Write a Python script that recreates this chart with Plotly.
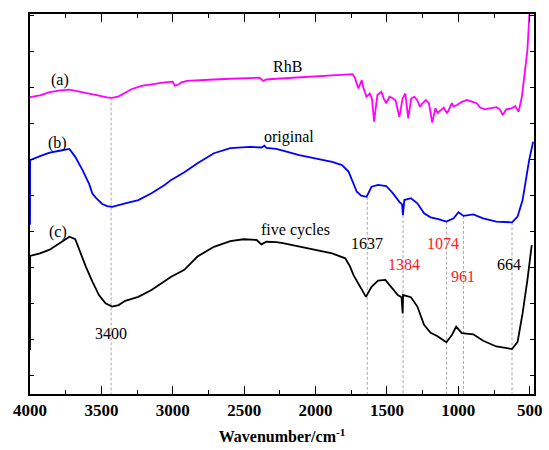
import plotly.graph_objects as go

# ---- data ----
rhb_wn = [4000, 3930, 3862, 3790, 3724, 3655, 3586, 3517, 3460, 3425, 3379, 3333, 3289, 3220, 3149, 3057,
          3000, 2986, 2960, 2940, 2900, 2827, 2712, 2597, 2459, 2392, 2367, 2344, 2275, 2114, 1999, 1884,
          1790, 1740, 1723, 1700, 1677, 1665, 1643, 1620, 1605, 1590, 1567, 1539, 1522, 1505, 1482, 1459,
          1440, 1413, 1390, 1371, 1351, 1330, 1309, 1290, 1268, 1255, 1228, 1206, 1183, 1160, 1145, 1125,
          1102, 1079, 1067, 1045, 1033, 1010, 979, 941, 910, 872, 847, 815, 780, 734, 710, 688, 665, 632,
          601, 578, 555, 532, 516, 502, 488]
rhb_t = [77.4, 77.9, 78.8, 79.3, 79.5, 79.0, 78.4, 77.8, 77.3, 77.2, 77.6, 78.6, 79.6, 80.5, 81.0, 81.5,
         81.7, 80.6, 80.9, 81.5, 81.9, 82.1, 82.3, 82.5, 82.8, 82.8, 81.9, 82.3, 82.5, 82.9, 83.2, 83.6,
         83.8, 83.8, 82.6, 79.8, 82.1, 80.0, 77.5, 78.4, 77.0, 70.6, 78.0, 78.9, 77.0, 75.7, 77.5, 77.1,
         76.5, 71.9, 77.1, 78.4, 71.5, 77.0, 77.5, 76.7, 74.7, 75.5, 76.6, 75.7, 70.3, 74.3, 73.0, 73.8,
         74.5, 72.9, 74.0, 75.7, 74.8, 75.2, 76.0, 76.6, 76.2, 75.7, 74.5, 74.0, 74.3, 74.6, 74.0, 72.4,
         74.0, 74.2, 74.9, 73.3, 77.5, 84.9, 90.5, 100.5, 104.5]

orig_wn = [4000, 3999, 3930, 3862, 3793, 3724, 3683, 3632, 3586, 3563, 3540, 3494, 3460, 3425, 3333, 3241,
           3149, 3057, 3011, 2953, 2919, 2827, 2712, 2597, 2459, 2379, 2358, 2344, 2275, 2229, 2114, 1884,
           1815, 1769, 1735, 1711, 1680, 1643, 1608, 1562, 1505, 1459, 1413, 1394, 1388, 1383, 1378, 1332,
           1287, 1240, 1194, 1140, 1084, 1033, 999, 964, 895, 826, 734, 624, 585, 550, 527, 504, 476]
orig_t = [41.9, 59.9, 61.0, 62.0, 62.5, 63.0, 60.8, 57.1, 53.3, 50.6, 49.5, 47.7, 47.1, 46.9, 47.9, 48.8,
          50.7, 53.0, 54.4, 55.7, 56.5, 59.0, 61.8, 63.2, 63.6, 63.4, 63.9, 63.3, 63.0, 62.5, 61.3, 59.4,
          58.5, 56.7, 53.4, 51.1, 50.0, 49.7, 52.5, 53.0, 52.7, 50.7, 48.3, 47.6, 44.6, 47.6, 48.8, 49.3,
          47.9, 45.1, 44.0, 43.5, 42.8, 43.7, 45.4, 44.4, 44.8, 43.7, 42.8, 42.6, 44.2, 48.8, 54.4, 59.9, 65.0]

five_wn = [4000, 3999, 3930, 3862, 3793, 3724, 3683, 3655, 3609, 3563, 3517, 3471, 3425, 3379, 3333, 3241,
           3149, 3011, 2919, 2827, 2712, 2597, 2505, 2413, 2379, 2344, 2275, 2229, 2114, 1999, 1884, 1792,
           1758, 1735, 1689, 1647, 1608, 1562, 1511, 1470, 1424, 1398, 1395, 1390, 1387, 1332, 1287, 1240,
           1194, 1148, 1084, 1045, 1015, 976, 895, 826, 734, 624, 585, 550, 516, 486]
five_t = [7.1, 33.3, 34.0, 35.0, 36.8, 38.6, 37.9, 34.9, 30.3, 26.1, 22.4, 20.1, 19.2, 19.6, 20.8, 21.9,
          23.8, 27.5, 29.4, 33.1, 35.8, 37.4, 37.9, 37.7, 36.5, 37.2, 37.1, 36.8, 35.8, 34.9, 34.0, 32.6,
          30.3, 28.0, 24.7, 21.9, 24.7, 26.4, 26.6, 24.7, 22.4, 21.8, 17.3, 17.3, 22.4, 21.8, 19.2, 14.1,
          11.9, 11.0, 9.3, 11.3, 13.6, 11.8, 11.5, 9.7, 8.1, 7.4, 9.4, 17.3, 26.6, 36.3]

# dashed marker lines: position and top value
mark_wn = [3432, 1638, 1387, 1082, 964, 624]
mark_top = [77.3, 49.7, 44.6, 42.8, 44.4, 42.6]

# peak labels
peak_text = ["3400", "1637", "1384", "1074", "961", "664"]
peak_x = [3436, 1643, 1378, 1109, 964, 642]
peak_y = [11.6, 36.6, 30.8, 36.6, 27.5, 30.8]
peak_red = [False, False, True, True, True, False]

curve_text = ["(a)", "(b)", "(c)", "RhB", "original", "five cycles"]
curve_x = [3793, 3807, 3807, 2194, 2185, 2137]
curve_y = [82.1, 64.6, 40.0, 85.8, 66.4, 40.5]

Y_MIN, Y_MAX = -5.1, 100.5
X_RANGE = [4000, 470]

fig = go.Figure()

for w, top in zip(mark_wn, mark_top):
    fig.add_trace(go.Scatter(x=[w, w], y=[top, Y_MIN], mode="lines",
                             line=dict(color="#a8a8a8", width=1, dash="3px,2px"),
                             hoverinfo="skip"))

fig.add_trace(go.Scatter(x=rhb_wn, y=rhb_t, mode="lines", line=dict(color="#ff00ff", width=1.8)))
fig.add_trace(go.Scatter(x=orig_wn, y=orig_t, mode="lines", line=dict(color="#0000ff", width=1.8)))
fig.add_trace(go.Scatter(x=five_wn, y=five_t, mode="lines", line=dict(color="#000000", width=1.8)))

serif = "Liberation Serif, Times New Roman, serif"
for t, x, y, red in zip(peak_text, peak_x, peak_y, peak_red):
    fig.add_annotation(x=x, y=y, text=t, showarrow=False,
                       font=dict(family=serif, size=16, color="#ff2020" if red else "#000000"))
for t, x, y in zip(curve_text, curve_x, curve_y):
    fig.add_annotation(x=x, y=y, text=t, showarrow=False,
                       font=dict(family=serif, size=16, color="#000000"))

fig.update_layout(
    width=549, height=450,
    margin=dict(l=30, r=7, t=14, b=56),
    paper_bgcolor="white", plot_bgcolor="white",
    showlegend=False,
    xaxis=dict(range=X_RANGE, showgrid=False, zeroline=False,
               showline=True, linecolor="black", linewidth=1.5, mirror="ticks",
               ticks="inside", ticklen=8, tickwidth=1.3, tickcolor="black",
               tick0=0, dtick=500,
               minor=dict(ticks="inside", ticklen=4, tickwidth=1.3, tickcolor="black", dtick=250, tick0=0),
               tickfont=dict(family=serif, size=17, color="black", weight="bold"),
               title=dict(text="<b>Wavenumber/cm<sup>-1</sup></b>", font=dict(family=serif, size=16, color="black"),
                          standoff=12)),
    yaxis=dict(range=[Y_MIN, Y_MAX], showgrid=False, zeroline=False,
               showline=True, linecolor="black", linewidth=1.5, mirror="ticks",
               ticks="inside", ticklen=4, tickwidth=1.3, tickcolor="black",
               tick0=0, dtick=10, showticklabels=False),
)

fig.write_html("out.html")
